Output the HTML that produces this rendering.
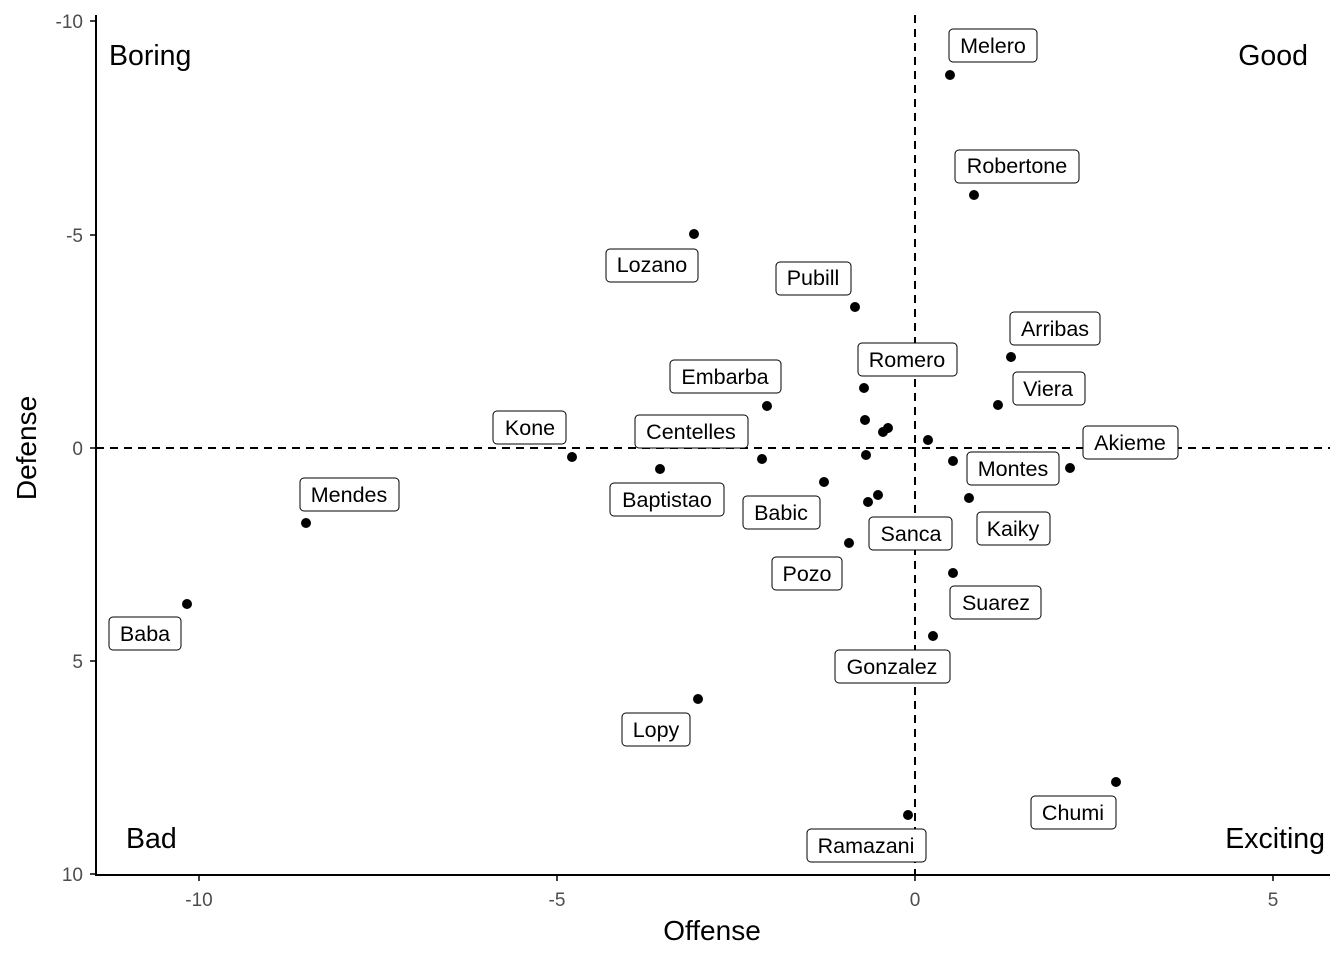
<!DOCTYPE html>
<html><head><meta charset="utf-8"><style>
body{margin:0;background:#fff}
svg{display:block;font-family:"Liberation Sans",Arial,sans-serif}
.lb rect{fill:#fff;stroke:#000;stroke-width:1}
.lb text{font-size:21.5px;text-anchor:middle;dominant-baseline:central}
.tk{font-size:19px;fill:#4d4d4d}
.cn{font-size:28.5px}
</style></head><body>
<svg width="1344" height="960" viewBox="0 0 1344 960">
<line x1="96" y1="15" x2="96" y2="875" stroke="#000" stroke-width="2"/>
<line x1="95" y1="875" x2="1330" y2="875" stroke="#000" stroke-width="2"/>
<g stroke="#000" stroke-width="1.5">
<line x1="90" y1="21" x2="96" y2="21"/><line x1="90" y1="235" x2="96" y2="235"/><line x1="90" y1="448" x2="96" y2="448"/><line x1="90" y1="661" x2="96" y2="661"/><line x1="90" y1="874" x2="96" y2="874"/>
<line x1="199" y1="875" x2="199" y2="881"/><line x1="557" y1="875" x2="557" y2="881"/><line x1="915" y1="875" x2="915" y2="881"/><line x1="1273" y1="875" x2="1273" y2="881"/>
</g>
<g class="tk" text-anchor="end">
<text x="83" y="28">-10</text><text x="83" y="242">-5</text><text x="83" y="455">0</text><text x="83" y="668">5</text><text x="83" y="881">10</text>
</g>
<g class="tk" text-anchor="middle">
<text x="199" y="906">-10</text><text x="557" y="906">-5</text><text x="915" y="906">0</text><text x="1273" y="906">5</text>
</g>
<text x="712" y="940" font-size="28" text-anchor="middle">Offense</text>
<text transform="translate(36,448) rotate(-90)" font-size="28" text-anchor="middle">Defense</text>
<line x1="96" y1="448" x2="1330" y2="448" stroke="#000" stroke-width="2" stroke-dasharray="8,6"/>
<line x1="915" y1="15" x2="915" y2="875" stroke="#000" stroke-width="2" stroke-dasharray="8,6"/>
<g class="cn">
<text x="109" y="65">Boring</text>
<text x="1308" y="65" text-anchor="end">Good</text>
<text x="126" y="848">Bad</text>
<text x="1325" y="848" text-anchor="end">Exciting</text>
</g>
<g fill="#000">
<circle cx="950" cy="75" r="5"/><circle cx="974" cy="195" r="5"/><circle cx="694" cy="234" r="5"/><circle cx="855" cy="307" r="5"/><circle cx="1011" cy="357" r="5"/><circle cx="864" cy="388" r="5"/><circle cx="767" cy="406" r="5"/><circle cx="998" cy="405" r="5"/><circle cx="865" cy="420" r="5"/><circle cx="883" cy="432" r="5"/><circle cx="888" cy="428" r="5"/><circle cx="928" cy="440" r="5"/><circle cx="572" cy="457" r="5"/><circle cx="866" cy="455" r="5"/><circle cx="660" cy="469" r="5"/><circle cx="762" cy="459" r="5"/><circle cx="953" cy="461" r="5"/><circle cx="1070" cy="468" r="5"/><circle cx="824" cy="482" r="5"/><circle cx="878" cy="495" r="5"/><circle cx="868" cy="502" r="5"/><circle cx="969" cy="498" r="5"/><circle cx="306" cy="523" r="5"/><circle cx="849" cy="543" r="5"/><circle cx="953" cy="573" r="5"/><circle cx="187" cy="604" r="5"/><circle cx="933" cy="636" r="5"/><circle cx="698" cy="699" r="5"/><circle cx="1116" cy="782" r="5"/><circle cx="908" cy="815" r="5"/>
</g>
<g class="lb">
<g><rect x="949" y="29" width="88" height="33" rx="4"/><text x="993" y="46">Melero</text></g>
<g><rect x="955" y="150" width="124" height="33" rx="4"/><text x="1017" y="166">Robertone</text></g>
<g><rect x="606" y="249" width="92" height="33" rx="4"/><text x="652" y="265">Lozano</text></g>
<g><rect x="776" y="262" width="75" height="33" rx="4"/><text x="813" y="278">Pubill</text></g>
<g><rect x="1010" y="312" width="90" height="33" rx="4"/><text x="1055" y="329">Arribas</text></g>
<g><rect x="858" y="343" width="99" height="33" rx="4"/><text x="907" y="360">Romero</text></g>
<g><rect x="670" y="360" width="111" height="33" rx="4"/><text x="725" y="377">Embarba</text></g>
<g><rect x="1013" y="372" width="72" height="33" rx="4"/><text x="1048" y="389">Viera</text></g>
<g><rect x="493" y="411" width="73" height="33" rx="4"/><text x="530" y="428">Kone</text></g>
<g><rect x="635" y="415" width="113" height="33" rx="4"/><text x="691" y="432">Centelles</text></g>
<g><rect x="1083" y="426" width="95" height="33" rx="4"/><text x="1130" y="443">Akieme</text></g>
<g><rect x="967" y="452" width="92" height="33" rx="4"/><text x="1013" y="469">Montes</text></g>
<g><rect x="610" y="483" width="114" height="33" rx="4"/><text x="667" y="500">Baptistao</text></g>
<g><rect x="300" y="478" width="99" height="33" rx="4"/><text x="349" y="495">Mendes</text></g>
<g><rect x="743" y="496" width="77" height="33" rx="4"/><text x="781" y="513">Babic</text></g>
<g><rect x="977" y="512" width="73" height="33" rx="4"/><text x="1013" y="529">Kaiky</text></g>
<g><rect x="869" y="517" width="83" height="33" rx="4"/><text x="911" y="534">Sanca</text></g>
<g><rect x="772" y="557" width="70" height="33" rx="4"/><text x="807" y="574">Pozo</text></g>
<g><rect x="950" y="586" width="91" height="33" rx="4"/><text x="996" y="603">Suarez</text></g>
<g><rect x="109" y="617" width="72" height="33" rx="4"/><text x="145" y="634">Baba</text></g>
<g><rect x="835" y="650" width="115" height="33" rx="4"/><text x="892" y="667">Gonzalez</text></g>
<g><rect x="622" y="713" width="68" height="33" rx="4"/><text x="656" y="730">Lopy</text></g>
<g><rect x="1031" y="796" width="85" height="33" rx="4"/><text x="1073" y="813">Chumi</text></g>
<g><rect x="807" y="829" width="119" height="33" rx="4"/><text x="866" y="846">Ramazani</text></g>
</g>
</svg>
</body></html>
